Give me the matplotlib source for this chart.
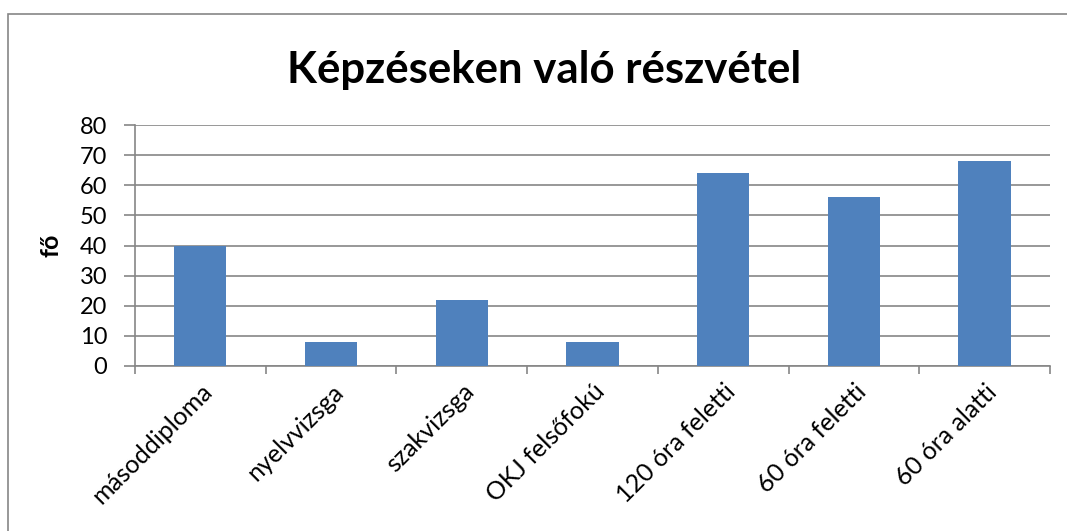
import matplotlib
matplotlib.use("Agg")
import matplotlib.pyplot as plt
from matplotlib.patches import Rectangle

categories = ["másoddiploma", "nyelvvizsga", "szakvizsga", "OKJ felsőfokú",
              "120 óra feletti", "60 óra feletti", "60 óra alatti"]
values = [40, 8, 22, 8, 64, 56, 68]
yticks = [0, 10, 20, 30, 40, 50, 60, 70, 80]

plt.rcParams['font.family'] = ['Lato', 'DejaVu Sans']

W, H = 1067, 531
fig = plt.figure(figsize=(W/100, H/100), dpi=100)
fig.patches.append(Rectangle((8/W, -0.1), 1.2, (531-14)/H + 0.1, transform=fig.transFigure,
                             fill=False, edgecolor='#868686', linewidth=1.2))

left, right, top, bottom = 135, 1050, 125, 366
ax = fig.add_axes([left/W, 1-bottom/H, (right-left)/W, (bottom-top)/H])
x = list(range(len(categories)))
ax.bar(x, values, width=0.4, color='#4F81BD', zorder=3)
ax.set_xlim(-0.5, len(categories)-0.5)
ax.set_ylim(0, 80)
ax.set_yticks(yticks)
ax.yaxis.grid(True, color='#868686', linewidth=1.2, zorder=0)
ax.set_axisbelow(True)
for s in ['top', 'right']:
    ax.spines[s].set_visible(False)
for s in ['left', 'bottom']:
    ax.spines[s].set_color('#868686')
    ax.spines[s].set_linewidth(1.2)
ax.set_xticks([i + 0.5 for i in range(-1, len(categories))], minor=False)
ax.set_xticklabels([])
ax.set_xticks(x, minor=True)
ax.set_xticklabels(categories, minor=True, rotation=45, ha='right', va='top',
                   rotation_mode='anchor', fontsize=18)
ax.tick_params(axis='x', which='minor', length=0, pad=10)
ax.tick_params(axis='x', which='major', length=6, color='#868686', width=1.2, direction='out')
ax.tick_params(axis='y', length=8, color='#868686', width=1.2, labelsize=17, pad=12)
ax.set_ylabel('fő', fontsize=18, fontweight='bold', labelpad=12)
fig.text(544/W, 1-70/H, 'Képzéseken való részvétel', ha='center', va='center',
         fontsize=31.5, fontweight='bold')
fig.savefig('out.png', dpi=100)
